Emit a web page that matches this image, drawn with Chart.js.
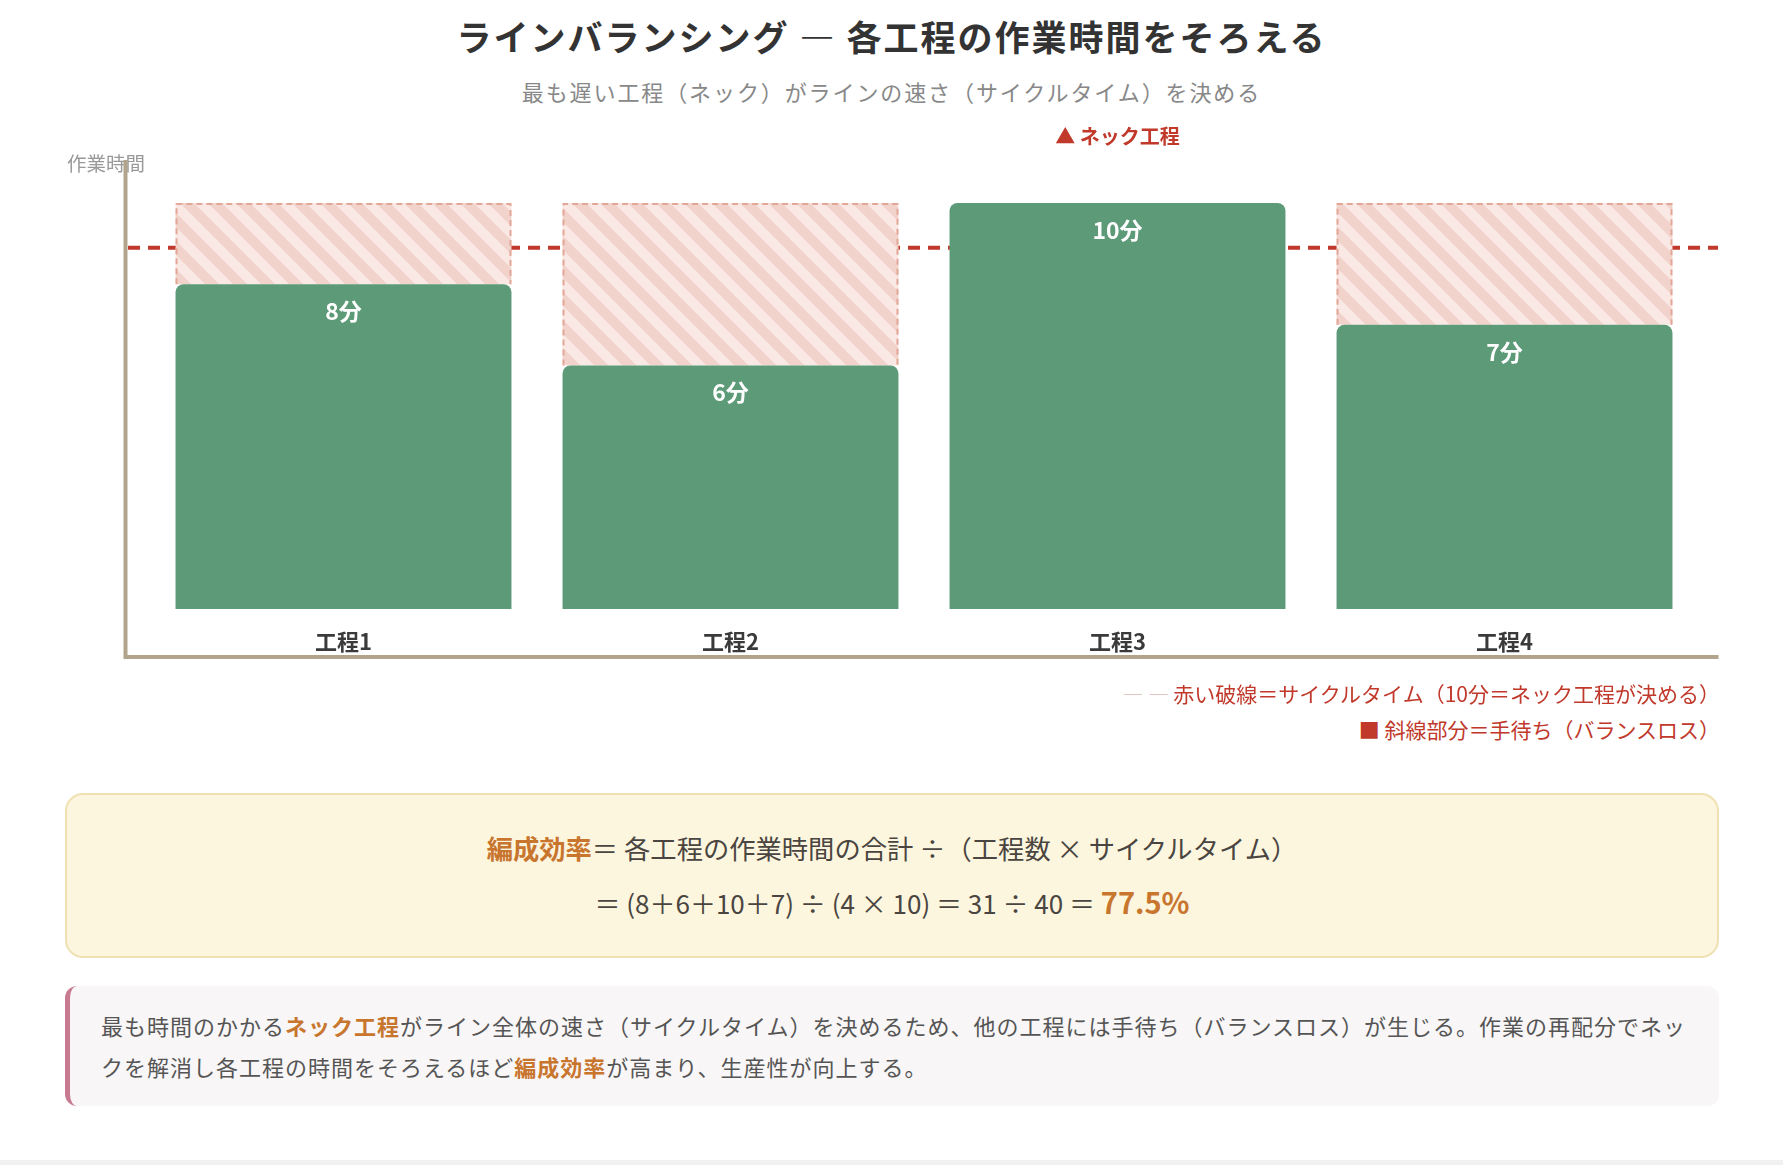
<!DOCTYPE html>
<html lang="ja">
<head>
<meta charset="utf-8">
<title>ラインバランシング</title>
<script src="https://cdn.jsdelivr.net/npm/chart.js@4.4.1/dist/chart.umd.min.js"></script>
<style>
  html, body { margin: 0; padding: 0; }
  body { background: #f1f1f1; font-family: "Noto Sans CJK JP", "Noto Sans", sans-serif; overflow: hidden; }
  #page { position: relative; width: 1783px; height: 1160px; background: #fff; }
  .abs { position: absolute; }
  #title { top: 14px; left: 0; width: 100%; text-align: center; font-size: 35px; font-weight: 700;
           color: #333; line-height: 44px; letter-spacing: 2px; }
  #subtitle { top: 76px; left: 0; width: 100%; text-align: center; font-size: 22px; color: #888;
              line-height: 30px; letter-spacing: 1.9px; }
  #chartBox { top: 100px; left: 0; width: 1783px; height: 580px; }
  .legend { right: 63px; font-size: 21px; color: #c0392b; line-height: 28px; white-space: nowrap; }
  .legend .dash { color: #dcc0b8; margin-right: 4px; }
  #formula { left: 65px; top: 793px; width: 1650px; height: 161px; background: #fdf6df;
             border: 2px solid #efe1b3; border-radius: 18px; text-align: center; color: #4a4540; }
  #formula .l1 { position: absolute; left: 0; width: 100%; top: 35px; font-size: 26.3px; line-height: 36px; }
  #formula .l2 { position: absolute; left: 0; width: 100%; top: 88px; font-size: 26px; line-height: 36px; }
  #formula b { color: #c8752e; }
  #formula .big { font-size: 29px; font-weight: 700; color: #c8752e; }
  #note { left: 65px; top: 986px; width: 1654px; height: 120px; background: #f8f6f6;
          border-radius: 12px; box-sizing: border-box; border-left: 5px solid #c77a90;
          padding: 19px 0 0 31px; font-size: 22px; line-height: 41px; color: #555; letter-spacing: 1px; }
  #note b { color: #c8752e; }
</style>
</head>
<body>
<div id="page">
  <div id="title" class="abs">ラインバランシング — 各工程の作業時間をそろえる</div>
  <div id="subtitle" class="abs">最も遅い工程（ネック）がラインの速さ（サイクルタイム）を決める</div>
  <div id="chartBox" class="abs"><canvas id="chart"></canvas></div>
  <div class="abs legend" style="top:679px"><span class="dash">— —</span>赤い破線＝サイクルタイム（10分＝ネック工程が決める）</div>
  <div class="abs legend" style="top:715px">■ 斜線部分＝手待ち（バランスロス）</div>
  <div id="formula" class="abs">
    <div class="l1"><b>編成効率</b>＝ 各工程の作業時間の合計 ÷（工程数 × サイクルタイム）</div>
    <div class="l2" id="calc"></div>
  </div>
  <div id="note" class="abs">最も時間のかかる<b>ネック工程</b>がライン全体の速さ（サイクルタイム）を決めるため、他の工程には手待ち（バランスロス）が生じる。作業の再配分でネッ<br>クを解消し各工程の時間をそろえるほど<b>編成効率</b>が高まり、生産性が向上する。</div>
</div>
<script>
// data
const processes = ['工程1', '工程2', '工程3', '工程4'];
const workTimes = [8, 6, 10, 7];          // 分
const cycleTime = 10;                     // ネック工程の作業時間
const cycleLineAt = 8.9;                  // 破線の高さ（図から読んだ位置）
const waitTimes = workTimes.map(v => cycleTime - v);

const FONT = '"Noto Sans CJK JP", "Noto Sans", sans-serif';
const GREEN = '#5c9a78';
const RED = '#c0392b';
const AXIS = '#b1a48b';

// formula line built from the same numbers
const sum = workTimes.reduce((a, b) => a + b, 0);
const total = workTimes.length * cycleTime;
document.getElementById('calc').innerHTML =
  `＝ (${workTimes.join('＋')}) ÷ (${workTimes.length} × ${cycleTime}) ＝ ${sum} ÷ ${total} ＝ ` +
  `<span class="big">${(sum / total * 100).toFixed(1)}%</span>`;

function makeHatch(){
  const s = 28;
  const c = document.createElement('canvas');
  c.width = c.height = s;
  const g = c.getContext('2d');
  g.fillStyle = '#fae8e4';
  g.fillRect(0, 0, s, s);
  g.strokeStyle = '#f2d3cc';
  g.lineWidth = 10;
  for (const o of [-s, 0, s]){
    g.beginPath(); g.moveTo(o - s, -s); g.lineTo(o + 2 * s, 2 * s); g.stroke();
  }
  return g.createPattern(c, 'repeat');
}

// cycle line (behind the bars)
const underlay = {
  id: 'underlay',
  beforeDatasetsDraw(chart){
    const { ctx, chartArea, scales: { y } } = chart;
    const yy = y.getPixelForValue(cycleLineAt);
    ctx.save();
    ctx.strokeStyle = RED;
    ctx.lineWidth = 4;
    ctx.setLineDash([12, 8]);
    ctx.beginPath();
    ctx.moveTo(chartArea.left - 22, yy);
    ctx.lineTo(chartArea.right + 20, yy);
    ctx.stroke();
    ctx.restore();
  }
};

// labels, hatch borders, axis lines (on top)
const overlay = {
  id: 'overlay',
  afterDatasetsDraw(chart){
    const { ctx, chartArea, scales: { x } } = chart;
    const work = chart.getDatasetMeta(0).data;
    const wait = chart.getDatasetMeta(1).data;
    ctx.save();

    // dashed outline on the waiting part
    ctx.strokeStyle = '#e3a798';
    ctx.lineWidth = 2;
    ctx.setLineDash([6, 4]);
    wait.forEach((el, i) => {
      if (!waitTimes[i]) return;
      const l = el.x - el.width / 2 + 1, r = el.x + el.width / 2 - 1, t = el.y + 1;
      ctx.beginPath();
      ctx.moveTo(l, el.base); ctx.lineTo(l, t); ctx.lineTo(r, t); ctx.lineTo(r, el.base);
      ctx.stroke();
    });
    ctx.setLineDash([]);

    // value labels
    ctx.fillStyle = '#fff';
    ctx.font = `bold 23px ${FONT}`;
    ctx.textAlign = 'center';
    ctx.textBaseline = 'middle';
    work.forEach((el, i) => ctx.fillText(`${workTimes[i]}分`, el.x, el.y + 27));

    // bottleneck marker
    const neck = workTimes.indexOf(Math.max(...workTimes));
    ctx.fillStyle = RED;
    ctx.font = `bold 20px ${FONT}`;
    ctx.fillText('▲ ネック工程', work[neck].x, chartArea.top - 67);

    // y axis title
    ctx.fillStyle = '#999';
    ctx.font = `19.5px ${FONT}`;
    ctx.textAlign = 'left';
    ctx.fillText('作業時間', chartArea.left - 83, chartArea.top - 39);

    // axis lines
    ctx.strokeStyle = AXIS;
    ctx.lineWidth = 4;
    ctx.beginPath();
    ctx.moveTo(chartArea.left - 24.5, chartArea.top - 43);
    ctx.lineTo(chartArea.left - 24.5, x.bottom);
    ctx.lineTo(chartArea.right + 20.5, x.bottom);
    ctx.stroke();
    ctx.restore();
  }
};

new Chart(document.getElementById('chart'), {
  type: 'bar',
  data: {
    labels: processes,
    datasets: [
      {
        label: '作業時間',
        data: workTimes,
        backgroundColor: GREEN,
        borderWidth: 0,
        borderRadius: { topLeft: 8, topRight: 8, bottomLeft: 0, bottomRight: 0 },
        barPercentage: 0.868,
        categoryPercentage: 1
      },
      {
        label: '手待ち',
        data: waitTimes,
        backgroundColor: makeHatch(),
        borderWidth: 0,
        barPercentage: 0.868,
        categoryPercentage: 1
      }
    ]
  },
  options: {
    responsive: true, maintainAspectRatio: false, animation: false,
    layout: { padding: { left: 150, right: 85, top: 103, bottom: 23 } },
    plugins: { legend: { display: false }, tooltip: { enabled: false } },
    scales: {
      x: {
        stacked: true,
        grid: { display: false, drawTicks: false },
        border: { display: false },
        ticks: { padding: 19, color: '#3a3a3a', maxRotation: 0, font: { size: 22, weight: 'bold', family: FONT } },
        afterFit: s => { s.height = 48; }
      },
      y: { stacked: true, display: false, min: 0, max: cycleTime }
    }
  },
  plugins: [underlay, overlay]
});
</script>
</body>
</html>
